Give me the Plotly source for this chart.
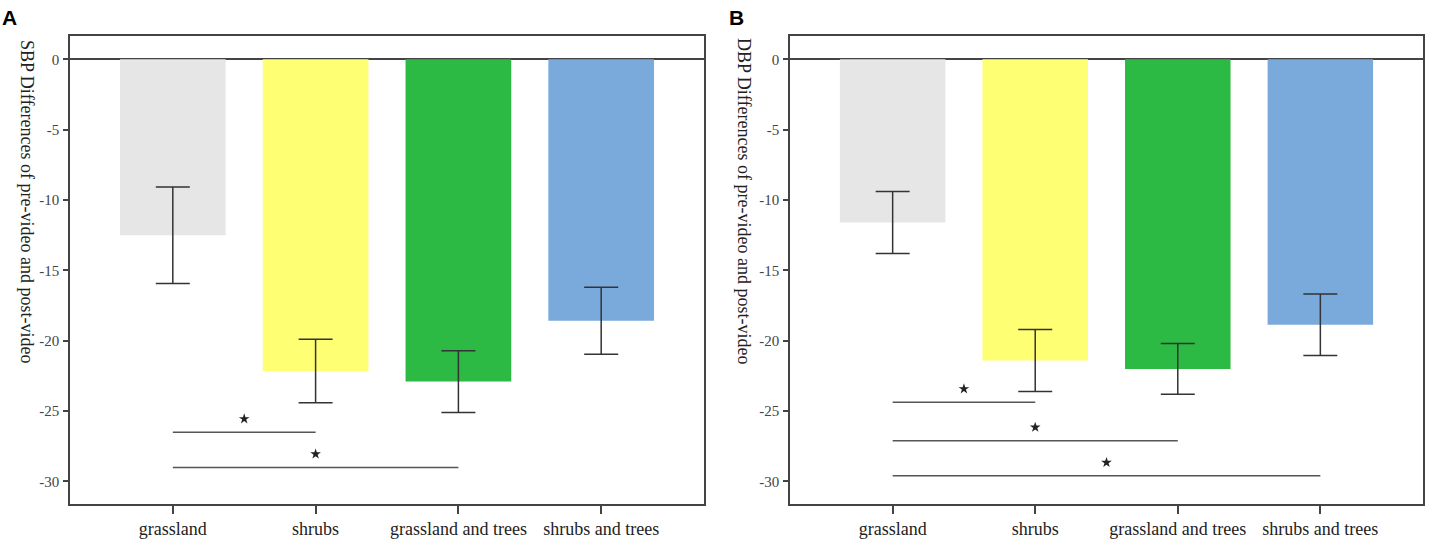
import plotly.graph_objects as go

categories = ["grassland", "shrubs", "grassland and trees", "shrubs and trees"]
bar_colors = ["#e6e6e6", "#ffff73", "#2cb944", "#7aaadb"]

# panel A - SBP
sbp_mean = [-12.5, -22.15, -22.9, -18.57]
sbp_err = [3.43, 2.26, 2.2, 2.38]
sbp_sig_pairs = [(0, 1), (0, 2)]
sbp_sig_y = [-26.5, -29.0]

# panel B - DBP
dbp_mean = [-11.6, -21.4, -22.0, -18.86]
dbp_err = [2.2, 2.2, 1.8, 2.18]
dbp_sig_pairs = [(0, 1), (0, 2), (0, 3)]
dbp_sig_y = [-24.37, -27.1, -29.6]

y_ticks = [0, -5, -10, -15, -20, -25, -30]
y_ticktext = ["0", "-5", "-10", "-15", "-20", "-25", "-30"]

serif = "Liberation Serif"
line_col = "#444444"

fig = go.Figure()


def add_panel(means, errs, pairs, sig_y, xa, ya):
    xs = list(range(len(categories)))
    fig.add_trace(go.Bar(
        x=xs, y=means, marker_color=bar_colors, marker_line_width=0,
        error_y=dict(type="data", array=errs, visible=True, color="#333333",
                     thickness=1.5, width=17),
        xaxis=xa, yaxis=ya, showlegend=False))
    for (a, b), yv in zip(pairs, sig_y):
        fig.add_trace(go.Scatter(
            x=[a, b], y=[yv, yv], mode="lines",
            line=dict(color="#555555", width=1.5),
            xaxis=xa, yaxis=ya, showlegend=False, hoverinfo="skip"))
        # star sits just above the middle of the bracket line
        fig.add_trace(go.Scatter(
            x=[(a + b) / 2], y=[yv + 0.95], mode="markers",
            marker=dict(symbol="star", size=8, color="#222222"),
            xaxis=xa, yaxis=ya, showlegend=False, hoverinfo="skip"))


add_panel(sbp_mean, sbp_err, sbp_sig_pairs, sbp_sig_y, "x", "y")
add_panel(dbp_mean, dbp_err, dbp_sig_pairs, dbp_sig_y, "x2", "y2")

xcommon = dict(range=[-0.72, 3.72], tickvals=list(range(4)), ticktext=categories,
               showline=True, mirror=True, linecolor=line_col, linewidth=1.5,
               ticks="outside", ticklen=8, tickwidth=1.5, tickcolor=line_col,
               showgrid=False, zeroline=False,
               tickfont=dict(family=serif, size=18, color="#222222"))
ycommon = dict(range=[-31.6, 1.66], tickvals=y_ticks, ticktext=y_ticktext,
               showline=True, mirror=True, linecolor=line_col, linewidth=1.5,
               ticks="outside", ticklen=5, tickwidth=1.5, tickcolor=line_col,
               showgrid=False, zeroline=True, zerolinecolor=line_col, zerolinewidth=1.5,
               ticklabelstandoff=1,
               tickfont=dict(family=serif, size=15, color="#444444"))

fig.update_layout(
    width=1429, height=544,
    margin=dict(l=0, r=0, t=0, b=0),
    paper_bgcolor="white", plot_bgcolor="white",
    bargap=0.26,
    xaxis=dict(domain=[70 / 1429, 704 / 1429], anchor="y", **xcommon),
    yaxis=dict(domain=[40 / 544, 508 / 544], anchor="x", **ycommon),
    xaxis2=dict(domain=[790 / 1429, 1423 / 1429], anchor="y2", **xcommon),
    yaxis2=dict(domain=[40 / 544, 508 / 544], anchor="x2", **ycommon),
    annotations=[
        dict(text="<b>A</b>", x=0, y=1 - 4 / 544, xref="paper", yref="paper",
             xanchor="left", yanchor="top", showarrow=False,
             font=dict(family="Liberation Sans", size=21, color="black")),
        dict(text="<b>B</b>", x=727 / 1429, y=1 - 4 / 544, xref="paper", yref="paper",
             xanchor="left", yanchor="top", showarrow=False,
             font=dict(family="Liberation Sans", size=21, color="black")),
        dict(text="SBP Differences of pre-video and post-video", textangle=90,
             x=27 / 1429, y=1 - 201 / 544, xref="paper", yref="paper",
             xanchor="center", yanchor="middle", showarrow=False,
             font=dict(family=serif, size=18, color="#222222")),
        dict(text="DBP Differences of pre-video and post-video", textangle=90,
             x=744 / 1429, y=1 - 201 / 544, xref="paper", yref="paper",
             xanchor="center", yanchor="middle", showarrow=False,
             font=dict(family=serif, size=18, color="#222222")),
    ],
)

fig.write_html("out.html", config={"displayModeBar": False},
               post_script="document.body.style.margin='0';")
